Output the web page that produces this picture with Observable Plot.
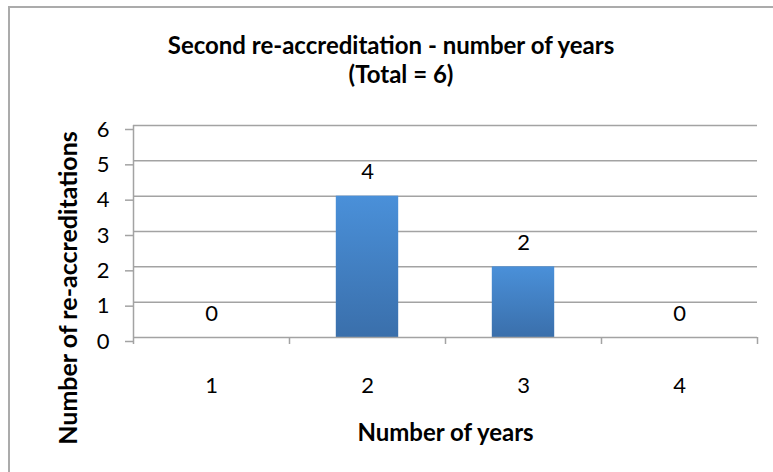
<!DOCTYPE html>
<html>
<head>
<meta charset="utf-8">
<script src="https://cdn.jsdelivr.net/npm/d3@7"></script>
<script src="https://cdn.jsdelivr.net/npm/@observablehq/plot@0.6"></script>
<style>
  html, body { margin: 0; padding: 0; background: #fff; overflow: hidden; }
  #wrap { position: relative; width: 773px; height: 472px; overflow: hidden; font-family: Lato, "Open Sans", sans-serif; }
  #frame { position: absolute; left: 8px; top: 6px; width: 900px; height: 600px; border-left: 2px solid #ababab; border-top: 2px solid #ababab; }
  .title { position: absolute; left: 0; font-weight: bold; font-size: 24px; line-height: 29px; white-space: nowrap; text-align: center; color: #000; }
  #ytitle { position: absolute; left: 67px; top: 288px; transform: translate(-50%, -50%) rotate(-90deg); font-weight: bold; font-size: 25px; white-space: nowrap; color: #000; }
  #chart { position: absolute; left: 0; top: 0; }
  #chart rect[fill="url(#barGrad)"] { filter: drop-shadow(0px 0px 2px rgba(0,0,0,0.25)); }
</style>
</head>
<body>
<div id="wrap">
  <div id="frame"></div>
  <div class="title" id="t1" style="top:30px; width:782px;">Second re-accreditation - number of years</div>
  <div class="title" id="t2" style="top:59px; width:802px;">(Total = 6)</div>
  <div id="ytitle">Number of re-accreditations</div>
  <div id="chart"></div>
</div>
<script>
const years = [1, 2, 3, 4];
const counts = [0, 4, 2, 0];
const yTicks = [0, 1, 2, 3, 4, 5, 6];
const categoryBoundaries = [0.5, 1.5, 2.5, 3.5, 4.5];
const xTitle = "Number of years";

const data = years.map((y, i) => ({year: y, count: counts[i]}));
const gray = "#a3a3a3";
const half = 0.2;

const plot = Plot.plot({
  width: 773,
  height: 472,
  marginLeft: 133,
  marginRight: 16,
  marginTop: 125,
  marginBottom: 135,
  style: {fontFamily: "Lato, 'Open Sans', sans-serif", fontSize: "22px", color: "#000", background: "transparent", overflow: "visible"},
  x: {domain: [0.5, 4.5]},
  y: {domain: [0, 6]},
  marks: [
    Plot.ruleY(yTicks.slice(1), {stroke: gray, strokeWidth: 1.5}),
    Plot.rectY(data, {x1: d => d.year - half, x2: d => d.year + half, y1: 0, y2: "count", fill: "url(#barGrad)"}),
    Plot.ruleY([0], {stroke: gray, strokeWidth: 1.5}),
    Plot.ruleX([categoryBoundaries[0]], {y1: 0, y2: 6, stroke: gray, strokeWidth: 1.5}),
    Plot.axisY({ticks: yTicks, tickFormat: "d", tickSize: 8, tickPadding: 16, stroke: gray, strokeWidth: 1.5, fill: "#000", fontSize: 22, dy: 4, label: null}),
    Plot.axisX({ticks: categoryBoundaries, tickSize: 7, tickFormat: () => "", stroke: gray, strokeWidth: 1.5, label: null}),
    Plot.axisX({ticks: years, tickFormat: "d", tickSize: 0, tickPadding: 40, fill: "#000", fontSize: 22, label: null}),
    Plot.text(data, {x: "year", y: "count", text: d => String(d.count), dy: -24, fontSize: 22, fill: "#000"}),
    Plot.text([xTitle], {frameAnchor: "bottom", text: d => d, dy: 103, fontWeight: "bold", fontSize: 24, fill: "#000"})
  ]
});

const defs = d3.select(plot).insert("defs", ":first-child");
const grad = defs.append("linearGradient").attr("id", "barGrad").attr("x1", 0).attr("y1", 0).attr("x2", 0).attr("y2", 1);
grad.append("stop").attr("offset", "0%").attr("stop-color", "#4a90d9");
grad.append("stop").attr("offset", "100%").attr("stop-color", "#3a6fab");

document.getElementById("chart").appendChild(plot);
</script>
</body>
</html>
